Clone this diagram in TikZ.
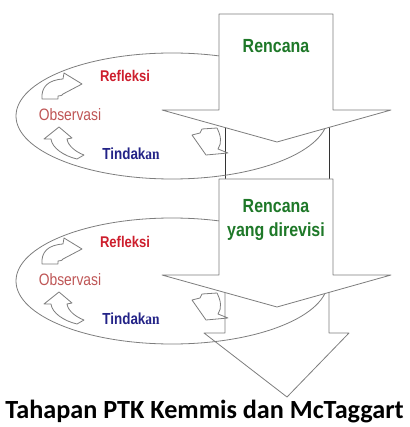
\documentclass[tikz,border=0pt]{standalone}
\usepackage{fontspec}
\setsansfont{Liberation Sans}[FakeStretch=0.84]
\newfontfamily\anfont{Liberation Serif}[FakeStretch=0.84]
\newfontfamily\titlefont{Carlito}
\definecolor{plan}{RGB}{30,120,40}
\definecolor{refl}{RGB}{205,30,45}
\definecolor{obs}{RGB}{190,85,85}
\definecolor{act}{RGB}{35,35,135}
\definecolor{edge}{RGB}{125,125,125}

\begin{document}
\begin{tikzpicture}[x=1pt, y=-1pt, font=\sffamily, line width=0.8pt]
\def\dy{165}
\useasboundingbox (0,0) rectangle (409,427);
\tikzset{
  outline/.style={draw=edge, line join=round},
  bigarrow/.style={outline, fill=white},
  lab/.style={anchor=base, inner sep=0pt, font=\sffamily\bfseries\fontsize{15.5}{18}\selectfont},
}

% ---- last arrow + links between the stages ----
\draw[outline] (225,270) -- (225,333) -- (204,333) -- (287,397) -- (349,333) -- (329,333) -- (329,270);
\draw[black!80] (225,110) -- (225,180);
\draw[black!80] (329,110) -- (329,180);

% ---- cycle: ellipse, turning arrows, labels ----
\foreach \i in {0,1}{
\begin{scope}[shift={(0,\i*\dy)}]
  \draw[edge] (172,116) ellipse (156 and 63);
  \draw[outline] (42,99) .. controls (41,87) and (48,80) .. (63,79) -- (64,73) -- (82,84)
    -- (63,94) .. controls (62,95.5) .. (58,96) -- (58,99) -- cycle;          % to Refleksi
  \draw[outline] (59,127) -- (72,138) -- (67,139) .. controls (68,146) and (76,152) .. (84,155)
    -- (77,159) .. controls (64,156) and (52,148) .. (51,139) -- (44,139) -- cycle; % to Observasi
  \draw[outline] (192,135) -- (200,133) -- (202,129) -- (217,128) .. controls (221,136) and (222,143) .. (218,149)
    -- (228,153) -- (206,155) -- cycle;                                      % to Tindakan
  \node[lab, text=refl] (refl\i) at (125,82) {Refleksi};
  \node[lab, text=obs, font=\sffamily\fontsize{16.5}{19}\selectfont] (obs\i) at (70,120.5) {Observasi};
  \node[lab, text=act, font=\sffamily\bfseries\fontsize{16}{19}\selectfont] (act\i) at (131,159.5) {Tindak{\anfont an}};
\end{scope}
}

% ---- big arrows (plan) ----
\foreach \i in {0,1}{
  \draw[bigarrow] (219,14+\i*\dy) -- (333,14+\i*\dy) -- (333,110+\i*\dy) -- (391,110+\i*\dy)
    -- (277,142+\i*\dy) -- (162,110+\i*\dy) -- (219,110+\i*\dy) -- cycle;
}
\node[lab, text=plan, font=\sffamily\bfseries\fontsize{19}{24}\selectfont] (plan0) at (276,53) {Rencana};
\node[text=plan, align=center, inner sep=0pt, font=\sffamily\bfseries\fontsize{19}{24}\selectfont]
  (plan1) at (276,220) {Rencana\\yang direvisi};

\node[anchor=base, inner sep=0pt, font=\titlefont\bfseries\fontsize{26.2}{30}\selectfont] (title) at (204.5,418)
  {Tahapan PTK Kemmis dan McTaggart};
\end{tikzpicture}
\end{document}
